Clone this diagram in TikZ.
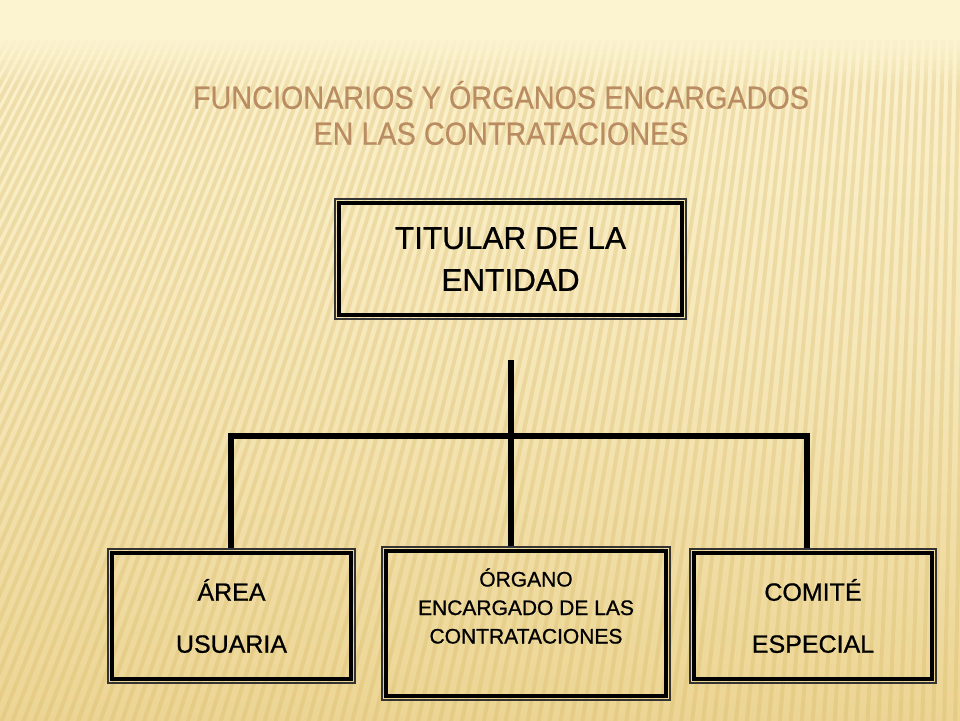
\documentclass[tikz,border=0pt]{standalone}
\usepackage{fontspec}
\setmainfont[FakeBold=0.8]{Liberation Sans}
\newfontfamily\titlefont[FakeStretch=0.9,FakeBold=0.3]{Liberation Sans}
\definecolor{bgtop}{RGB}{252,243,208}
\definecolor{bgbot}{RGB}{236,213,148}
\definecolor{stripecol}{RGB}{214,182,100}
\definecolor{titlecol}{RGB}{185,140,97}
\begin{document}
\begin{tikzpicture}[x=1pt,y=-1pt,
  conn/.style={line width=6pt, draw=black, line join=miter},
  boxouter/.style={draw=black!80, line width=1.2pt, inner sep=0pt},
  innerframe/.style={draw=black, line width=4pt},
  stripe/.style={line width=4pt, draw=stripecol, opacity=0.3}]
\useasboundingbox (0,0) rectangle (960,720);
% background
\shade[top color=bgtop, bottom color=bgbot, middle color={bgtop!60!bgbot}] (0,0) rectangle (960,720);
\begin{scope}
  \clip (0,40) rectangle (960,720);
  \foreach \x in {-420,-409,...,1000}
    \draw[stripe] (\x,730) -- (1000,-1800);
\end{scope}
\foreach \k [evaluate=\k as \op using 0.9-\k*0.1] in {0,...,8}
  \fill[bgtop, opacity=\op] (0,40+\k*5) rectangle (960,45+\k*5);
\fill[bgtop] (0,0) rectangle (960,40);
% title
\node[font=\titlefont\fontsize{32}{36}\selectfont, text=titlecol, align=center] (title) at (501,113) {FUNCIONARIOS Y ÓRGANOS ENCARGADOS\\EN LAS CONTRATACIONES};
% boxes
\node[boxouter, minimum width=351pt, minimum height=120pt, font=\fontsize{31.5}{42}\selectfont, align=center] (tbox) at (510.5,259) {TITULAR DE LA\\ENTIDAD};
\node[boxouter, minimum width=247pt, minimum height=134pt, font=\fontsize{25}{52}\selectfont, align=center] (lbox) at (231.5,616) {ÁREA\\USUARIA};
\node[boxouter, minimum width=288pt, minimum height=153pt,
  label={[font=\fontsize{21}{28.5}\selectfont, align=center, yshift=17.5pt]center:ÓRGANO\\ENCARGADO DE LAS\\CONTRATACIONES}] (mbox) at (526,623.5) {};
\node[boxouter, minimum width=246pt, minimum height=134pt, font=\fontsize{25}{52}\selectfont, align=center] (rbox) at (813,616) {COMITÉ\\ESPECIAL};
\foreach \n in {tbox,lbox,mbox,rbox}
  \draw[innerframe] ([shift={(5pt,-5pt)}]\n.north west) rectangle ([shift={(-5pt,5pt)}]\n.south east);
% connectors
\coordinate (trunk) at (510.5,360);
\coordinate (busl) at (231,436);
\coordinate (busr) at (806.5,436);
\draw[conn] (trunk) -- (trunk |- mbox.north);
\draw[conn] (busl |- lbox.north) -- (busl) -- (busr) -- (busr |- rbox.north);
\end{tikzpicture}
\end{document}
